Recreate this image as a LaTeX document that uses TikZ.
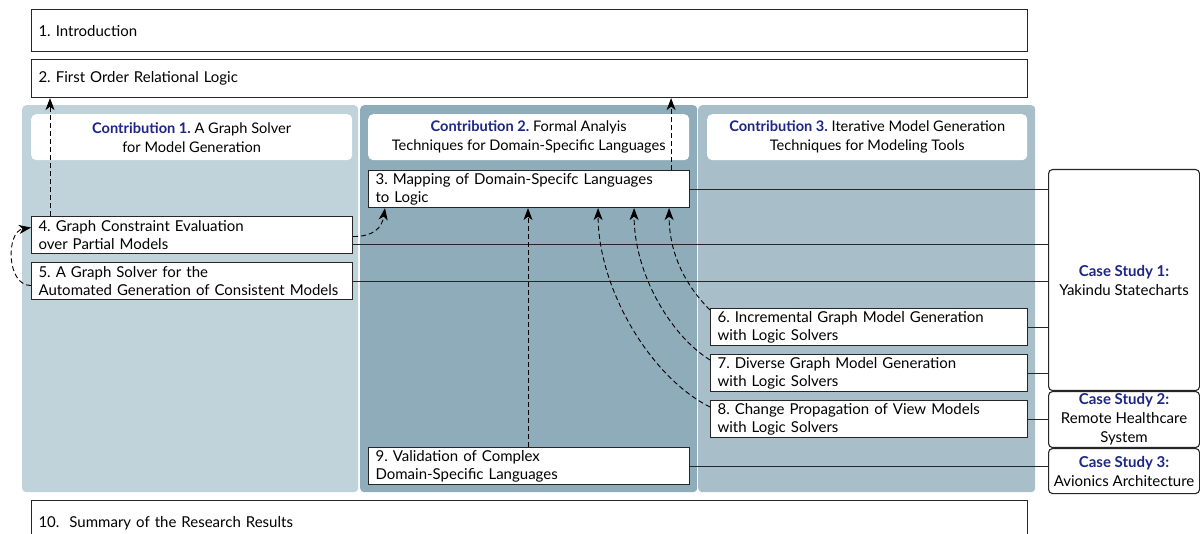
\documentclass[tikz,border=0pt]{standalone}
\usepackage{fontspec}
\setmainfont{Lato}
\usetikzlibrary{arrows.meta}
\definecolor{navy}{RGB}{28,38,135}
\definecolor{pA}{RGB}{192,210,218}
\definecolor{pB}{RGB}{142,172,186}
\definecolor{pC}{RGB}{168,191,201}
\newcommand\hlt[1]{{\color{navy}\bfseries #1}}
\frenchspacing
\begin{document}
\begin{tikzpicture}[x=1pt,y=-1pt,
  font=\fontsize{15}{18}\selectfont,
  box/.style={draw=black!85, line width=1.1pt, fill=white, inner xsep=7pt, inner ysep=0pt, align=left, anchor=north west},
  panel/.style={rounded corners=4pt, inner sep=0pt, anchor=north west, draw=none},
  ttl/.style={fill=white, rounded corners=5pt, inner sep=0pt, anchor=north west, align=center, font=\fontsize{14.6}{19}\selectfont},
  cs/.style={draw=black!85, line width=1.1pt, fill=white, rounded corners=4pt, inner sep=0pt, align=center, anchor=north west, font=\fontsize{15}{19}\selectfont},
  link/.style={draw=black!85, line width=0.9pt},
  dep/.style={draw=black, line width=0.9pt, dash pattern=on 5pt off 3pt, -{Stealth[length=12pt,width=9pt,inset=3.5pt]}}
]
\useasboundingbox (0,0) rectangle (1200,534);
\clip (0,0) rectangle (1200,534);
% panels
\node[panel, fill=pA, minimum width=336, minimum height=387] (p1) at (22,105) {};
\node[panel, fill=pB, minimum width=337, minimum height=387] (p2) at (360,105) {};
\node[panel, fill=pC, minimum width=337, minimum height=387] (p3) at (698,105) {};
% titles
\node[ttl, minimum width=321, minimum height=46] (t1) at (31,114) {\hlt{Contribution 1.} A Graph Solver\\for Model Generation};
\node[ttl, minimum width=321, minimum height=46] (t2) at (368,114) {\hlt{Contribution 2.} Formal Analyis\\Techniques for Domain-Specific Languages};
\node[ttl, minimum width=320, minimum height=46] (t3) at (707,114) {\hlt{Contribution 3.} Iterative Model Generation\\Techniques for Modeling Tools};
% chapter boxes
\node[box, text width=982, minimum height=42] (b1) at (31,9) {1. Introduction};
\node[box, text width=982, minimum height=38] (b2) at (31,59) {2. First Order Relational Logic};
\node[box, text width=982, minimum height=45] (b10) at (31,500) {10.\ \ Summary of the Research Results};
\node[box, text width=307, minimum height=37] (b3) at (368,170) {3. Mapping of Domain-Specifc Languages\\to Logic};
\node[box, text width=307, minimum height=37] (b4) at (31,216) {4. Graph Constraint Evaluation\\over Partial Models};
\node[box, text width=307, minimum height=37] (b5) at (31,262) {5. A Graph Solver for the\\Automated Generation of Consistent Models};
\node[box, text width=303, minimum height=37] (b6) at (710,308) {6. Incremental Graph Model Generation\\with Logic Solvers};
\node[box, text width=303, minimum height=37] (b7) at (710,354) {7. Diverse Graph Model Generation\\with Logic Solvers};
\node[box, text width=303, minimum height=37] (b8) at (710,400) {8. Change Propagation of View Models\\with Logic Solvers};
\node[box, text width=307, minimum height=37] (b9) at (368,447) {9. Validation of Complex\\Domain-Specific Languages};
% case studies
\node[cs, minimum width=151, minimum height=221] (cs1) at (1048,169) {\hlt{Case Study 1:}\\Yakindu Statecharts};
\node[cs, minimum width=151, minimum height=56] (cs2) at (1048,391) {\hlt{Case Study 2:}\\Remote Healthcare\\System};
\node[cs, minimum width=151, minimum height=45] (cs3) at (1048,448) {\hlt{Case Study 3:}\\Avionics Architecture};
% solid links
\coordinate (b4r) at ([yshift=-9.5pt]b4.east);
\draw[link] (b3.east) -- (b3.east -| cs1.west);
\draw[link] (b4r) -- (b4r -| cs1.west);
\draw[link] (b5.east) -- (b5.east -| cs1.west);
\draw[link] (b6.east) -- (b6.east -| cs1.west);
\draw[link] (b7.east) -- (b7.east -| cs1.west);
\draw[link] (b8.east) -- (b8.east -| cs2.west);
\draw[link] (b9.east) -- (b9.east -| cs3.west);
% dependencies
\coordinate (a4) at ([xshift=19pt]b4.north west);
\coordinate (a3) at ([xshift=-19pt]b3.north east);
\coordinate (a9) at ([xshift=160pt]b9.north west);
\draw[dep] (a4) -- (a4 |- b2.south);
\draw[dep] (a3) -- (a3 |- b2.south);
\draw[dep] (a9) -- (a9 |- b3.south);
\coordinate (s4) at ([yshift=-1.5pt]b4.east);
\coordinate (e43) at ([xshift=17pt]b3.south west);
\draw[dep] (s4) .. controls +(20,0) and +(-3,20) .. (e43);
\coordinate (s5) at ([yshift=-4.5pt]b5.west);
\coordinate (e54) at ([yshift=7.5pt]b4.west);
\draw[dep] (s5) .. controls +(-25,0) and +(-25,4) .. (e54);
\coordinate (s6) at ([yshift=-2pt]b6.north west);
\coordinate (s7) at ([yshift=-6pt]b7.north west);
\coordinate (s8) at ([yshift=-7pt]b8.north west);
\coordinate (e6) at ([xshift=-21pt]b3.south east);
\coordinate (e7) at ([xshift=-56pt]b3.south east);
\coordinate (e8) at ([xshift=-92pt]b3.south east);
\draw[dep] (s6) .. controls +(-25,-25) and +(0,45) .. (e6);
\draw[dep] (s7) .. controls +(-40,-25) and +(0,65) .. (e7);
\draw[dep] (s8) .. controls +(-60,-30) and +(0,80) .. (e8);
\end{tikzpicture}
\end{document}
